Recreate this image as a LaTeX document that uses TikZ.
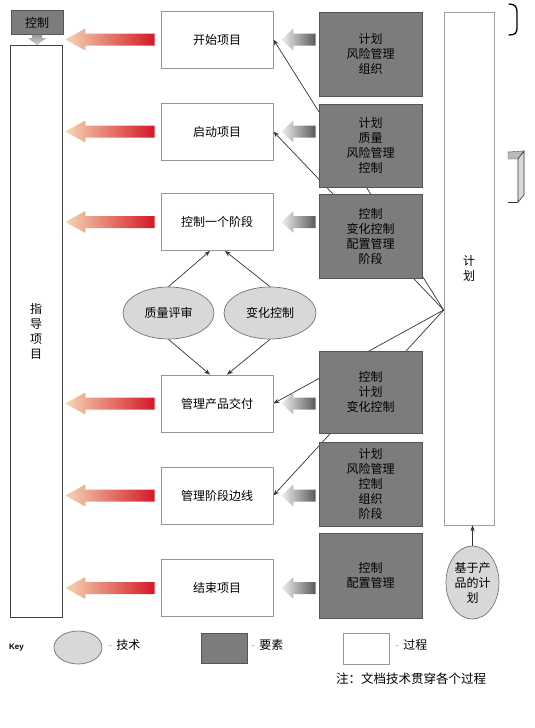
\documentclass[tikz,border=0pt]{standalone}
\usepackage{fontspec}
\setmainfont{Noto Sans CJK SC}
\newfontfamily\latinfont{Liberation Sans}
\usetikzlibrary{calc,shapes.geometric,arrows.meta}
\pgfdeclarelayer{bg}
\pgfsetlayers{bg,main}
\definecolor{elem}{RGB}{124,124,124}
\definecolor{elemline}{RGB}{85,85,85}
\definecolor{tech}{RGB}{216,216,216}
\definecolor{techline}{RGB}{115,115,115}
\definecolor{procline}{RGB}{150,150,150}
\definecolor{redtip}{RGB}{244,214,180}
\definecolor{redmid}{RGB}{232,105,110}
\definecolor{redend}{RGB}{212,24,36}
\newcommand\txtsize{\fontsize{12}{15}\selectfont}
\newcommand\fatarrow[4]{%
  \path[#1] let \p1=(#2), \p2=(#3) in
    (\x2,\y1) -- (\x2+#4,\y1+11) -- (\x2+#4,\y1+6) -- (\x1,\y1+6) --
    (\x1,\y1-6) -- (\x2+#4,\y1-6) -- (\x2+#4,\y1-11) -- cycle;}
\tikzset{
  proc/.style={draw=procline, line width=0.8pt, fill=white, minimum width=112pt,
    minimum height=57pt, inner sep=0pt, font=\txtsize},
  elem/.style={draw=elemline, line width=0.6pt, fill=elem, minimum width=103pt,
    inner sep=0pt, align=center, font=\txtsize},
  tech/.style={ellipse, draw=techline, fill=tech, inner sep=0pt, line width=0.7pt,
    align=center, font=\txtsize},
  tallbox/.style={fill=white, inner sep=0pt, align=center, font=\txtsize},
  txt/.style={inner sep=0pt, font=\txtsize},
  thinarrow/.style={draw=black!80, line width=0.7pt, -{Stealth[length=6pt,width=4.5pt]}},
  redarrow/.style={left color=redtip, middle color=redmid, right color=redend},
  grayarrow/.style={left color=gray!12, middle color=gray!60, right color=gray!70!black}
}
\begin{document}
\begin{tikzpicture}[x=1pt,y=-1pt]
\useasboundingbox (0,0) rectangle (535,728);

% left column
\node[draw=elemline, fill=elem, minimum width=52pt, minimum height=24pt, inner sep=0pt,
  font=\txtsize] (ctrl) at (37,22.5) {控制};
\node[tallbox, draw=black!75, line width=0.7pt, minimum width=52pt, minimum height=572pt]
  (direct) at (36,331.5) {指\\导\\项\\目};

% processes
\node[proc] (s1) at (217,39.5) {开始项目};
\node[proc] (s2) at (217,131.5) {启动项目};
\node[proc] (s3) at (217,222) {控制一个阶段};
\node[proc] (s4) at (217,403.5) {管理产品交付};
\node[proc] (s5) at (217,495.5) {管理阶段边线};
\node[proc] (s6) at (217,588) {结束项目};

% elements
\node[elem, minimum height=84pt] (e1) at (370.5,54) {计划\\风险管理\\组织};
\node[elem, minimum height=83pt] (e2) at (370.5,145.5) {计划\\质量\\风险管理\\控制};
\node[elem, minimum height=84pt] (e3) at (370.5,236) {控制\\变化控制\\配置管理\\阶段};
\node[elem, minimum height=82pt] (e4) at (370.5,392) {控制\\计划\\变化控制};
\node[elem, minimum height=84pt] (e5) at (370.5,484) {计划\\风险管理\\控制\\组织\\阶段};
\node[elem, minimum height=85pt] (e6) at (370.5,575.5) {控制\\配置管理};

% plan column
\node[tallbox, draw=gray!75, line width=0.7pt, minimum width=50pt, minimum height=513pt]
  (plan) at (469,268.5) {计\\划};

% techniques
\node[tech, minimum width=91pt, minimum height=52pt] (qr) at (168.5,313) {质量评审};
\node[tech, minimum width=92pt, minimum height=52pt] (cc) at (270,313) {变化控制};
\node[tech, minimum width=53pt, minimum height=73pt] (pb) at (472.5,582.5) {基于产\\品的计\\划};

% fan of thin connectors behind the element boxes
\coordinate (J) at ($(plan.west)+(0,41.5)$);
\begin{pgfonlayer}{bg}
  \draw[thinarrow] (J) -- (s1.east);
  \draw[thinarrow] (J) -- (s2.east);
  \draw[thinarrow] (J) -- (s4.east);
  \draw[thinarrow] (J) -- (s5.east);
\end{pgfonlayer}

% technique arrows
\draw[thinarrow] (qr.north) -- ($(s3.south)+(-7,0)$);
\draw[thinarrow] (cc.north) -- ($(s3.south)+(8,0)$);
\draw[thinarrow] (qr.south) -- ($(s4.north)+(-7,0)$);
\draw[thinarrow] (cc.south) -- ($(s4.north)+(10,0)$);
\draw[thinarrow] (pb.north) -- (pb.north |- plan.south);

% fat red arrows (process -> direct) and gray arrows (element -> process)
\foreach \s in {s1,s2,s3,s4,s5,s6}{
  \fatarrow{redarrow}{$(\s.west)+(-6,0)$}{$(direct.east |- \s.west)+(3,0)$}{20}
}
\foreach \i in {1,...,6}{
  \fatarrow{grayarrow}{$(e\i.west |- s\i.east)+(-3,0)$}{$(s\i.east)+(8,0)$}{12}
}

% control down arrow
\path[top color=gray!80, bottom color=gray!35] let \p1=(ctrl.south), \p2=(direct.north) in
  (\x1,\y2) -- (\x1-9,\y2+7) -- (\x1-5,\y2+7) -- (\x1-5,\y1) -- (\x1+5,\y1) --
  (\x1+5,\y2+7) -- (\x1+9,\y2+7) -- cycle;

% right edge marks
\draw[line width=1.3pt, line cap=round] (509,4) .. controls (515,4) and (517,7) .. (517,12)
  -- (517,28) .. controls (517,33) and (515,35) .. (509,35);
\filldraw[fill=gray!55, draw=black!70, line width=0.4pt] (508,152) -- (524,151) -- (518,159) -- (508,159) -- cycle;
\filldraw[fill=gray!30, draw=black!80, line width=0.6pt] (518,159) -- (524,151) -- (524,195) -- (518,202) -- cycle;
\draw[black!80, line width=0.8pt] (508,202) -- (518,202);

% key
\node[inner sep=0pt, font=\latinfont\bfseries\fontsize{8}{9}\selectfont, anchor=west] (key) at (9,648) {Key};
\node[tech, minimum width=48pt, minimum height=33pt] (ktech) at (78,647.5) {};
\node[txt, anchor=west] (ltech) at (108,645) {{\color{gray!60}-}\hspace{4pt}技术};
\node[elem, minimum width=46pt, minimum height=30pt] (kelem) at (224,648) {};
\node[txt, anchor=west] (lelem) at (251,645) {{\color{gray!60}-}\hspace{4pt}要素};
\node[proc, minimum width=46pt, minimum height=31pt] (kproc) at (366,648.5) {};
\node[txt, anchor=west] (lproc) at (395,645) {{\color{gray!60}-}\hspace{4pt}过程};
\node[inner sep=0pt, anchor=west, font=\fontsize{12.5}{15}\selectfont] (note) at (336,679) {注：文档技术贯穿各个过程};
\end{tikzpicture}
\end{document}
